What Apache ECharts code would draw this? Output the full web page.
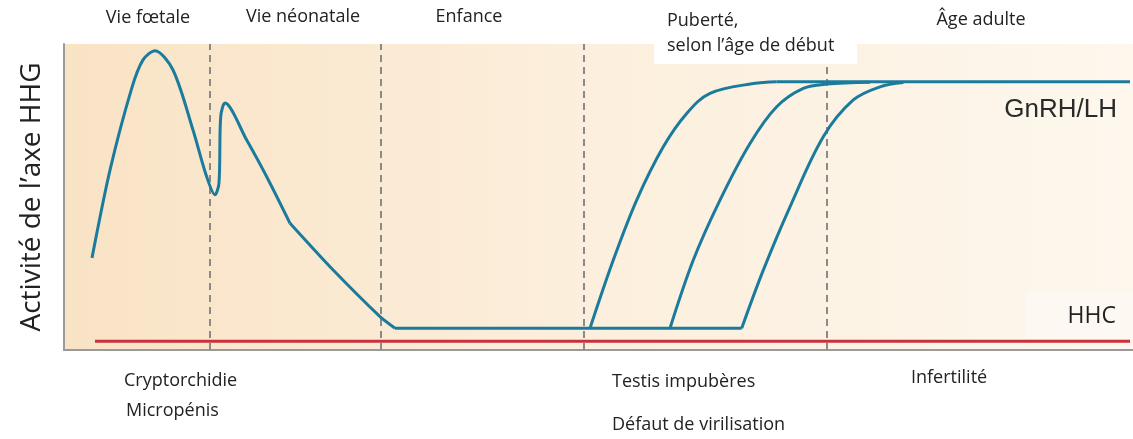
<!DOCTYPE html>
<html>
<head>
<meta charset="utf-8">
<script src="https://cdn.jsdelivr.net/npm/echarts@6/dist/echarts.min.js"></script>
<style>
  html, body { margin: 0; padding: 0; background: #fff; }
  #chart { width: 1133px; height: 439px; }
</style>
</head>
<body>
<div id="chart"></div>
<script>
// x = arbitrary age scale (0..1069), y = activity (0..100)
const phaseBounds = [146, 317, 520, 763];

const fetalNeonatal = [
  [28, 30.1], [46, 58.8], [67.7, 85.5], [79, 94.8], [91, 97.8],
  [109, 91.5], [129, 71.9], [142.7, 56.6], [151, 50.7], [155, 54.6],
  [156.7, 76.2], [161, 80.7], [182.7, 68.6], [202.7, 56.6], [226, 41.4]
];
const decline = [[226, 41.4], [266, 27.2], [316, 10.9], [331, 7.1]];
const childhoodFlat = [[331, 7.1], [677.7, 7.1]];

const pubertyEarly = [
  [526, 7.1], [549.3, 29.4], [572.7, 49.0], [599.3, 66.4], [622.7, 77.3],
  [646, 83.9], [689.3, 87.1], [712.7, 87.7]
];
const pubertyMid = [
  [606, 7.1], [629.3, 29.4], [656, 49.0], [686, 67.5], [712.7, 79.5],
  [739.3, 85.5], [762.7, 86.9], [806, 87.5]
];
const pubertyLate = [
  [677.7, 7.1], [699.3, 26.1], [726, 46.8], [759.3, 69.7], [789.3, 81.7],
  [816, 86.0], [839.3, 87.4]
];
const adultFlat = [[712.7, 87.7], [1066, 87.7]];

const hhcLine = [[31, 2.9], [1066, 2.9]];

const phaseLabels = ['Vie fœtale', 'Vie néonatale', 'Enfance', 'Puberté,\nselon l’âge de début', 'Âge adulte'];
const consequenceLabels = ['Cryptorchidie', 'Micropénis', 'Testis impubères', 'Défaut de virilisation', 'Infertilité'];

const blue = '#1b7b9d';
const font = '"Open Sans", sans-serif';

const chart = echarts.init(document.getElementById('chart'));

function blueSeries(data, smooth) {
  return {
    type: 'line', data: data, smooth: smooth,
    symbol: 'none', z: 5,
    lineStyle: { color: blue, width: 3 }
  };
}

function label(text, x, y, size, align) {
  return {
    type: 'text', z: 30, x: x, y: y,
    style: { text: text, font: size + 'px ' + font, fill: '#222', textAlign: align || 'left', textVerticalAlign: 'middle' }
  };
}

chart.setOption({
  animation: false,
  backgroundColor: '#fff',
  grid: {
    left: 64, right: 0, top: 44, bottom: 89,
    show: true, borderWidth: 0,
    backgroundColor: new echarts.graphic.LinearGradient(0, 0, 1, 0, [
      { offset: 0, color: '#f9e3c5' },
      { offset: 0.5, color: '#fcefdd' },
      { offset: 1, color: '#fdf7ed' }
    ])
  },
  xAxis: {
    type: 'value', min: 0, max: 1069,
    axisLine: { show: true, lineStyle: { color: '#9a9a9a', width: 2 } },
    axisTick: { show: false }, axisLabel: { show: false }, splitLine: { show: false }
  },
  yAxis: {
    type: 'value', min: 0, max: 100,
    name: 'Activité de l’axe HHG',
    nameLocation: 'middle', nameGap: 18, nameRotate: 90,
    nameTextStyle: { fontFamily: font, fontSize: 28, color: '#222' },
    axisLine: { show: true, lineStyle: { color: '#9a9a9a', width: 2 } },
    axisTick: { show: false }, axisLabel: { show: false }, splitLine: { show: false }
  },
  series: [
    {
      type: 'line', data: hhcLine, symbol: 'none', z: 4,
      lineStyle: { color: '#c9323d', width: 3 },
      markLine: {
        silent: true, symbol: 'none', label: { show: false },
        lineStyle: { color: '#8a8a8a', width: 2, type: [7, 5] },
        data: phaseBounds.map(v => ({ xAxis: v }))
      }
    },
    blueSeries(fetalNeonatal, 0.3),
    blueSeries(decline, 0.2),
    blueSeries(childhoodFlat, false),
    blueSeries(pubertyEarly, 0.35),
    blueSeries(pubertyMid, 0.35),
    blueSeries(pubertyLate, 0.35),
    blueSeries(adultFlat, false)
  ],
  graphic: [
    { type: 'rect', z: 20, shape: { x: 654, y: 0, width: 203, height: 64 }, style: { fill: '#fff' } },
    { type: 'rect', z: 20, shape: { x: 1026, y: 292, width: 107, height: 46 }, style: { fill: '#fdf8f2' } },
    label(phaseLabels[0], 148, 18, 18, 'center'),
    label(phaseLabels[1], 303, 17, 18, 'center'),
    label(phaseLabels[2], 469, 17, 18, 'center'),
    { type: 'text', z: 30, x: 667, y: 8, style: { text: phaseLabels[3], font: '18px ' + font, fill: '#222', textAlign: 'left', lineHeight: 25 } },
    label(phaseLabels[4], 981, 20, 18, 'center'),
    { type: 'text', z: 30, x: 1117, y: 110, style: { text: 'GnRH/LH', font: '26px "Liberation Sans", sans-serif', fill: '#2a2a2a', textAlign: 'right', textVerticalAlign: 'middle' } },
    label('HHC', 1116, 316, 23, 'right'),
    label(consequenceLabels[0], 124, 381, 18),
    label(consequenceLabels[1], 126, 411, 18),
    label(consequenceLabels[2], 612, 382, 18),
    label(consequenceLabels[3], 612, 425, 18),
    label(consequenceLabels[4], 911, 378, 18)
  ]
});
</script>
</body>
</html>
